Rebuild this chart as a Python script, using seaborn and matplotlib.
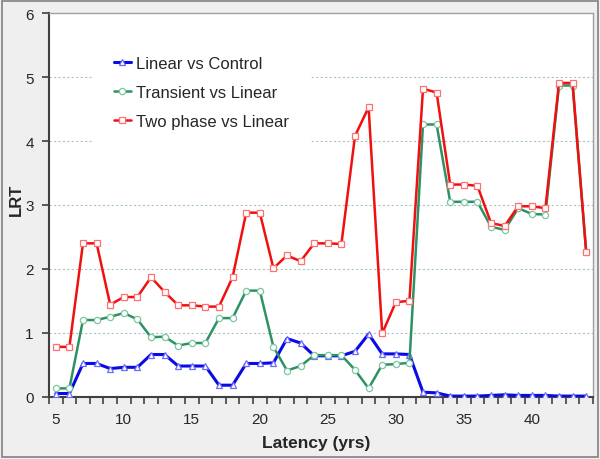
import matplotlib
matplotlib.use("Agg")
import matplotlib.pyplot as plt
import seaborn as sns
import numpy as np
import pandas as pd
from matplotlib.patches import Rectangle
from matplotlib.ticker import FixedLocator

latency = list(range(5, 45))

linear_vs_control = [0.05, 0.05, 0.52, 0.52, 0.44, 0.46, 0.46, 0.66, 0.66, 0.48,
                     0.48, 0.48, 0.18, 0.18, 0.52, 0.52, 0.53, 0.91, 0.84, 0.64,
                     0.64, 0.64, 0.71, 0.98, 0.67, 0.67, 0.66, 0.07, 0.06, 0.01,
                     0.01, 0.01, 0.02, 0.03, 0.02, 0.02, 0.02, 0.01, 0.01, 0.01]

transient_vs_linear = [0.13, 0.13, 1.20, 1.20, 1.25, 1.31, 1.21, 0.93, 0.94, 0.80,
                       0.84, 0.84, 1.23, 1.23, 1.66, 1.66, 0.78, 0.41, 0.48, 0.65,
                       0.65, 0.65, 0.42, 0.13, 0.50, 0.51, 0.53, 4.26, 4.26, 3.05,
                       3.05, 3.05, 2.66, 2.61, 2.95, 2.86, 2.85, 4.87, 4.87, 2.26]

two_phase_vs_linear = [0.78, 0.78, 2.40, 2.40, 1.44, 1.56, 1.56, 1.87, 1.64, 1.43,
                       1.43, 1.41, 1.41, 1.87, 2.88, 2.88, 2.01, 2.21, 2.12, 2.40,
                       2.40, 2.39, 4.08, 4.53, 0.99, 1.48, 1.50, 4.82, 4.76, 3.32,
                       3.32, 3.30, 2.72, 2.67, 2.98, 2.98, 2.95, 4.91, 4.91, 2.26]

series_names = ["Linear vs Control", "Transient vs Linear", "Two phase vs Linear"]
x_ticks = [5, 10, 15, 20, 25, 30, 35, 40]
y_ticks = [0, 1, 2, 3, 4, 5, 6]

sns.set_style("white")
plt.rcParams['font.family'] = ['Liberation Sans', 'DejaVu Sans']

fig = plt.figure(figsize=(6.0, 4.6), dpi=100)
fig.patch.set_facecolor("#efefef")
fig.patches.append(Rectangle((2/600, 2/460), 1 - 4/600, 1 - 4/460, transform=fig.transFigure,
                             fill=False, edgecolor="#808080", linewidth=1.2))

ax = fig.add_axes([49/600, 1 - 397.7/460, (593 - 49)/600, (397.7 - 14.3)/460])
ax.set_facecolor("white")

styles = [
    dict(color="#0a0ae6", marker="^", mec="#6a6aff", lw=2.2, ms=4.5),
    dict(color="#2e9163", marker="o", mec="#7cc7a0", lw=1.8, ms=4.5),
    dict(color="#f01010", marker="s", mec="#ff7070", lw=1.8, ms=4.5),
]
data = [linear_vs_control, transient_vs_linear, two_phase_vs_linear]

for name, vals, st in zip(series_names, data, styles):
    df = pd.DataFrame({"Latency": latency, "LRT": vals})
    sns.lineplot(data=df, x="Latency", y="LRT", ax=ax, color=st["color"], linewidth=st["lw"],
                 marker=st["marker"], markersize=st["ms"], markerfacecolor="white",
                 markeredgecolor=st["mec"], markeredgewidth=0.9, label=name, zorder=3)

ax.set_xlim(4.5, 44.5)
ax.set_ylim(0, 6)
ax.set_yticks(y_ticks)
ax.xaxis.set_major_locator(FixedLocator(x_ticks))
ax.xaxis.set_minor_locator(FixedLocator(np.arange(4.5, 45, 1.0)))
ax.tick_params(axis="x", which="major", length=0, pad=11, labelsize=11)
ax.tick_params(axis="x", which="minor", length=5, width=1.2, color="#404040", direction="out")
ax.tick_params(axis="y", which="major", length=5, width=1.2, color="#404040", direction="out",
               pad=6, labelsize=11)
ax.xaxis.set_ticks_position("bottom")
ax.yaxis.set_ticks_position("left")

for y in y_ticks[1:-1]:
    ax.axhline(y, color="#a8c4c4", linestyle=(0, (2, 2)), linewidth=0.8, zorder=1)

for side in ["left", "bottom"]:
    ax.spines[side].set_color("#404040")
    ax.spines[side].set_linewidth(1.5)
for side in ["top", "right"]:
    ax.spines[side].set_color("#a0a0a0")
    ax.spines[side].set_linewidth(1.0)

ax.set_xlabel("Latency (yrs)", fontsize=12.5, fontweight="bold")
ax.xaxis.set_label_coords(0.491, -0.10)
ax.set_ylabel("LRT", fontsize=12, fontweight="bold")
ax.yaxis.set_label_coords(-0.047, 0.516)

handles, labels = ax.get_legend_handles_labels()
leg = ax.legend(handles, labels,
                loc="upper left", bbox_to_anchor=(94/600, 1 - 37/460), bbox_transform=fig.transFigure,
                fontsize=12, frameon=True, facecolor="white", edgecolor="none", framealpha=1,
                fancybox=False, handlelength=1.0, handletextpad=0.35, labelspacing=0.85,
                borderpad=1.2, borderaxespad=0)
leg.set_zorder(2)

fig.savefig("out.png", dpi=100, facecolor=fig.get_facecolor())
